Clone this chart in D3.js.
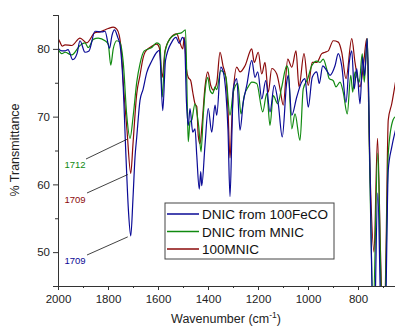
<!DOCTYPE html>
<html lang="en">
<head>
<meta charset="UTF-8">
<title>IR spectra</title>
<script src="https://d3js.org/d3.v7.min.js"></script>
<style>
  body { margin: 0; background: #fff; }
  text { font-family: "Liberation Sans", Arial, sans-serif; }
</style>
</head>
<body>
<svg class="chart"></svg>
<script>
const svgW = 395, svgH = 328;

// DNIC from 100FeCO (blue)
const wnFeCO = [2000,1985,1972,1960,1941,1924,1912,1892,1876,1852,1825,1812,1794,1784,1774,1761,1752,1740,1728,1718,1709,1700,1692,1685,1672,1660,1645,1625,1605,1594,1581,1570,1545,1528,1515,1502,1494,1486,1479,1472,1461,1452,1445,1435,1429,1425,1412,1399,1385,1372,1365,1349,1339,1328,1320,1312,1304,1299,1285,1272,1259,1245,1225,1212,1201,1185,1169,1152,1135,1119,1103,1085,1079,1065,1045,1025,1012,999,983,965,955,941,925,912,892,879,865,848,835,825,815,805,792,781,774,763,752,737,721,708,695,688,679,665,650];
const tFeCO = [80.1,79.7,79.7,79.9,78.4,79.3,81.2,79.5,79.7,82.6,82.5,82.6,80.1,82,82.8,81.7,80.6,75,64,56,52.4,58,64,67,72.4,74,76.5,78.2,79.5,79.8,70.9,78.3,81,81.7,80.8,81.7,81.2,72,68.7,71.2,67.7,68.2,64.3,59.3,61.9,59.8,65.8,71.2,67.7,71.7,70.2,77.3,76.6,73.3,68,58.2,68,74.1,75.6,68,72.1,74.6,78.3,75.8,76.6,72.6,75.3,70.7,74.6,71.9,67,75.1,76.1,70.2,72.9,75.1,75.6,71.4,75.8,76.6,74.9,77.5,76.8,76.1,77.5,79.3,77.5,72.1,78,79.7,74.1,77.1,71.9,78.8,76,81.5,62,35,58.7,40,35,44,62.1,65.5,68];

// DNIC from MNIC (green)
const wnMNICd = [2000,1985,1972,1945,1912,1892,1879,1859,1839,1812,1799,1789,1779,1765,1753,1739,1725,1712,1699,1685,1672,1655,1625,1605,1592,1583,1572,1552,1525,1505,1490,1483,1479,1472,1465,1452,1443,1437,1428,1419,1412,1401,1392,1381,1372,1365,1349,1339,1328,1312,1299,1281,1268,1255,1239,1225,1205,1181,1165,1152,1139,1121,1105,1085,1079,1065,1052,1032,1019,1001,985,965,952,939,925,915,899,888,872,859,843,829,821,812,795,783,775,763,752,739,721,708,696,688,679,660,650];
const tMNICd = [80,79.3,79.5,79.1,80.5,80.9,80.2,81.4,81.6,81.2,80.7,77.6,80,81.2,81,78,70.2,66.8,70.2,75.1,77.8,79.7,80.2,80.9,80.6,72.9,79.5,81.5,82.2,82.4,82.8,72,66.3,69.2,69.5,71.9,70.2,68.5,64.8,70.2,73.6,75.8,73.9,73.4,74.4,74,76.8,76.6,75.8,70.2,73.6,74.9,70.4,73.1,74.4,75.1,74.9,70.7,73.4,68.7,73.1,71.9,74.4,77.5,77,68.2,70.4,66.5,74.1,75.6,77.5,78.2,78,78.5,77,75.6,75.3,74.4,75.1,73.6,70.4,76.1,73.6,76.6,75.1,79.3,75.1,81.5,60,42,64.6,45,35,48,64.6,69.5,70];

// 100MNIC (dark red)
const wnMNIC = [2000,1992,1983,1972,1945,1912,1885,1852,1832,1819,1799,1779,1765,1755,1745,1739,1724,1709,1700,1685,1672,1660,1652,1632,1605,1595,1583,1572,1552,1525,1513,1501,1495,1486,1479,1469,1461,1452,1445,1439,1432,1423,1412,1401,1389,1379,1365,1352,1340,1328,1320,1312,1304,1299,1285,1272,1252,1225,1215,1199,1185,1172,1159,1145,1125,1112,1099,1081,1065,1048,1036,1016,999,983,965,945,932,919,899,879,865,848,825,812,792,779,765,752,736,722,710,697,688,679,665,650];
const tMNIC = [81.6,81,80.4,80.6,80.5,81.6,80.9,82.4,82.5,82.7,83,83.2,82.9,82,79,75.1,68,61.6,66,73.4,76.1,78.6,79.5,80.2,80.7,80.2,75.8,79.7,81.5,82.2,81,80,81.7,77,75.8,75.3,73.6,71.9,71.5,67.2,66,69.2,74.4,76.6,74.6,73.9,75,79.5,77.5,75.6,71,63.9,70,73.4,77.3,76.6,77.5,80,78,79.5,76.3,78,73.6,77.1,76.3,74.1,71.7,78.5,77.3,79.7,74.4,79.3,74.6,78,78,79.3,79.5,79.7,81.2,81,79.5,75.6,81.5,78,74.4,77.3,81.5,62,50,66.8,50,35,50,69.5,71.9,75.1];

const seriesNames = ["DNIC from 100FeCO", "DNIC from MNIC", "100MNIC"];
const seriesColors = ["#0a0a96", "#108a10", "#8b0a0a"];
const xMajor = [2000, 1800, 1600, 1400, 1200, 1000, 800];
const xMinor = [1900, 1700, 1500, 1300, 1100, 900, 700];
const yMajor = [50, 60, 70, 80];
const yMinor = [55, 65, 75];
const peakLabels = ["1709", "1712", "1709"];
const peakWn = [1709, 1712, 1709];
const peakT = [52.4, 66.8, 61.6];

const series = [
  { wn: wnFeCO, t: tFeCO },
  { wn: wnMNICd, t: tMNICd },
  { wn: wnMNIC, t: tMNIC }
];

const plotL = 58, plotR = 395.5, plotT = 15, plotB = 286;

const svg = d3.select(".chart")
  .attr("width", svgW)
  .attr("height", svgH)
  .attr("viewBox", `0 0 ${svgW} ${svgH}`);

const x = d3.scaleLinear().domain([2000, 650]).range([plotL, plotR]);
const y = d3.scaleLinear().domain([45, 85]).range([plotB, plotT]);

svg.append("clipPath").attr("id", "plot-clip")
  .append("rect")
  .attr("x", plotL).attr("y", plotT)
  .attr("width", plotR - plotL).attr("height", plotB - plotT);

const line = d3.line()
  .x(d => x(d[0]))
  .y(d => y(d[1]))
  .curve(d3.curveMonotoneX);

// spectra (drawn back to front: red, green, blue)
const g = svg.append("g").attr("clip-path", "url(#plot-clip)");
[2, 1, 0].forEach(i => {
  const pts = series[i].wn.map((w, k) => [w, series[i].t[k]]);
  g.append("path")
    .attr("d", line(pts))
    .attr("fill", "none")
    .attr("stroke", seriesColors[i])
    .attr("stroke-width", 1.2)
    .attr("stroke-linejoin", "round");
});

// axes
svg.append("g")
  .attr("transform", `translate(0,${plotB})`)
  .call(d3.axisBottom(x).tickValues(xMajor).tickSize(4).tickPadding(5).tickFormat(d3.format("d")));
svg.append("g")
  .attr("transform", `translate(0,${plotB})`)
  .call(d3.axisBottom(x).tickValues(xMinor).tickSize(2).tickFormat(""));
svg.append("g")
  .attr("transform", `translate(${plotL},0)`)
  .call(d3.axisLeft(y).tickValues(yMajor).tickSize(5).tickPadding(3));
svg.append("g")
  .attr("transform", `translate(${plotL},0)`)
  .call(d3.axisLeft(y).tickValues(yMinor).tickSize(3).tickFormat(""));

svg.selectAll(".domain").attr("stroke", "#333").attr("stroke-width", 1);
svg.selectAll(".tick line").attr("stroke", "#333");
svg.selectAll(".tick text")
  .attr("fill", "#222")
  .style("font-size", "11.5px")
  .style("font-family", "'Liberation Sans', Arial, sans-serif");

// axis titles
const xt = svg.append("text")
  .attr("x", 226).attr("y", 323)
  .attr("text-anchor", "middle")
  .attr("fill", "#222")
  .style("font-size", "12.5px");
xt.append("tspan").text("Wavenumber (cm");
xt.append("tspan").text("-1").attr("dy", -5).style("font-size", "8.5px");
xt.append("tspan").text(")").attr("dy", 5);

svg.append("text")
  .attr("transform", `translate(19,150) rotate(-90)`)
  .attr("text-anchor", "middle")
  .attr("fill", "#222")
  .style("font-size", "12.5px")
  .text("% Transmittance");

// peak annotations
const labelPos = [[75, 264], [75, 168], [75, 203]];
const lineStart = [[87, 255], [86, 159], [87, 193]];
[0, 1, 2].forEach(i => {
  svg.append("line")
    .attr("x1", lineStart[i][0]).attr("y1", lineStart[i][1])
    .attr("x2", x(peakWn[i]) - 3).attr("y2", y(peakT[i]) + 1)
    .attr("stroke", "#111").attr("stroke-width", 0.8);
  svg.append("text")
    .attr("x", labelPos[i][0]).attr("y", labelPos[i][1])
    .attr("text-anchor", "middle")
    .attr("fill", seriesColors[i])
    .style("font-size", "9.5px")
    .text(peakLabels[i]);
});

// legend
const lg = svg.append("g").attr("transform", "translate(165,203)");
lg.append("rect")
  .attr("width", 169).attr("height", 56)
  .attr("fill", "#fff")
  .attr("stroke", "#444").attr("stroke-width", 1);
seriesNames.forEach((name, i) => {
  const yy = 11 + i * 17.5;
  lg.append("line")
    .attr("x1", 2).attr("x2", 34)
    .attr("y1", yy).attr("y2", yy)
    .attr("stroke", seriesColors[i]).attr("stroke-width", 1.5);
  lg.append("text")
    .attr("x", 37).attr("y", yy + 5)
    .attr("fill", "#111")
    .style("font-size", "13.5px")
    .text(name);
});
</script>
</body>
</html>
